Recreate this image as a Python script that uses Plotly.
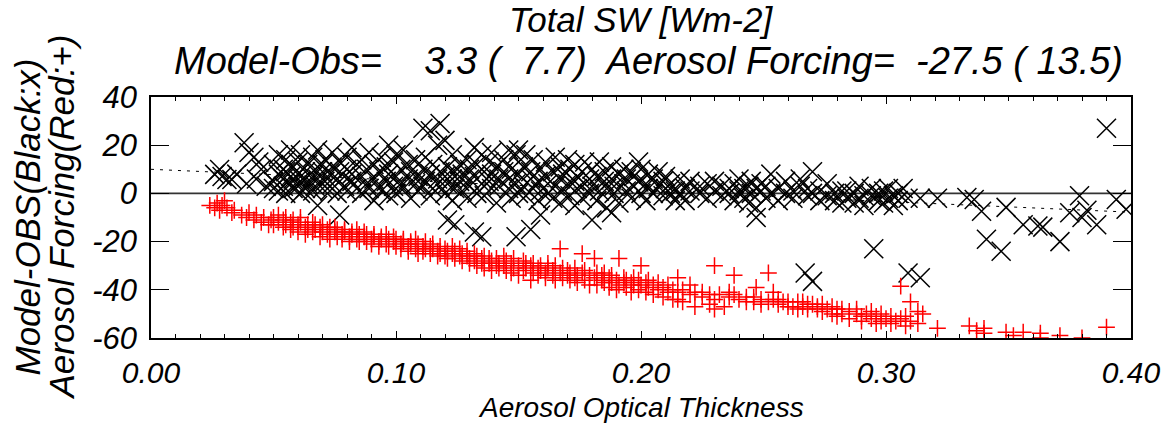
import plotly.graph_objects as go

# ---------------- data ----------------
black_x = [
    0.026, 0.028, 0.029, 0.031, 0.033, 0.035,
    0.038, 0.040, 0.042, 0.044, 0.039, 0.043, 0.045, 0.047,
    0.050, 0.050, 0.050, 0.052, 0.052, 0.052, 0.054, 0.054, 0.054, 0.055, 0.055, 0.055,
    0.057, 0.057, 0.057, 0.058, 0.058, 0.058, 0.060, 0.060, 0.060, 0.061, 0.061, 0.061,
    0.063, 0.063, 0.063, 0.064, 0.064, 0.066, 0.066, 0.066, 0.067, 0.067,
    0.068, 0.068, 0.068, 0.070, 0.070, 0.070, 0.071, 0.071, 0.073, 0.073,
    0.074, 0.074, 0.074, 0.076, 0.076, 0.077, 0.077, 0.077, 0.079, 0.079,
    0.080, 0.080, 0.080, 0.082, 0.082, 0.082, 0.084, 0.084,
    0.086, 0.086, 0.086, 0.088, 0.088, 0.089, 0.089, 0.091, 0.091, 0.091,
    0.093, 0.093, 0.094, 0.094, 0.096, 0.096, 0.097, 0.097, 0.097, 0.099, 0.099,
    0.100, 0.100, 0.100, 0.102, 0.102, 0.103, 0.103, 0.105, 0.105, 0.106, 0.106,
    0.108, 0.108, 0.109, 0.109, 0.111, 0.111, 0.111, 0.112, 0.112,
    0.114, 0.114, 0.114, 0.115, 0.115, 0.117, 0.117, 0.118, 0.118, 0.118,
    0.120, 0.120, 0.120, 0.121, 0.121, 0.121, 0.123, 0.123, 0.123, 0.124, 0.124, 0.124,
    0.126, 0.126, 0.127, 0.127, 0.129, 0.129, 0.130, 0.130, 0.130,
    0.132, 0.132, 0.132, 0.133, 0.133, 0.135, 0.135, 0.135, 0.136, 0.136,
    0.138, 0.138, 0.139, 0.139, 0.139, 0.141, 0.141, 0.142, 0.142, 0.144, 0.144,
    0.146, 0.146, 0.146, 0.147, 0.147, 0.149, 0.149, 0.149,
    0.150, 0.150, 0.150, 0.152, 0.152, 0.153, 0.153, 0.155, 0.155, 0.155, 0.156, 0.156,
    0.158, 0.158, 0.159, 0.159, 0.159, 0.161, 0.161, 0.162, 0.162, 0.164, 0.164,
    0.165, 0.165, 0.167, 0.167, 0.167, 0.168, 0.168, 0.170, 0.170, 0.171, 0.171,
    0.173, 0.173, 0.173, 0.174, 0.174, 0.176, 0.176, 0.177, 0.177, 0.179, 0.179,
    0.180, 0.180, 0.180, 0.182, 0.182, 0.183, 0.183, 0.185, 0.185, 0.186, 0.186,
    0.188, 0.188, 0.188, 0.189, 0.189, 0.191, 0.191, 0.193, 0.193, 0.194, 0.194,
    0.196, 0.196, 0.197, 0.197, 0.199, 0.199, 0.200, 0.200, 0.202, 0.202, 0.203, 0.203,
    0.205, 0.205, 0.207, 0.207, 0.209, 0.209, 0.210, 0.210, 0.212, 0.212, 0.214, 0.214,
    0.216, 0.216, 0.218, 0.218, 0.220, 0.220, 0.224, 0.224, 0.227, 0.227, 0.230, 0.230,
    0.233, 0.233, 0.236, 0.236, 0.238, 0.238, 0.240, 0.240, 0.242, 0.242, 0.244, 0.244,
    0.245, 0.245, 0.247, 0.247, 0.247, 0.249, 0.249, 0.251, 0.251, 0.253, 0.253,
    0.256, 0.256, 0.259, 0.259, 0.262, 0.262, 0.265, 0.265, 0.268, 0.268, 0.270, 0.270,
    0.273, 0.273, 0.276, 0.276, 0.279, 0.279, 0.282, 0.282,
    0.284, 0.284, 0.287, 0.287, 0.289, 0.289, 0.291, 0.291, 0.294, 0.294, 0.295,
    0.297, 0.297, 0.299, 0.299, 0.301, 0.301, 0.303, 0.303, 0.305, 0.305, 0.307,
    0.309, 0.309, 0.314, 0.314, 0.321, 0.267, 0.270,
    0.333, 0.336, 0.339, 0.341, 0.347, 0.349, 0.356, 0.362, 0.364, 0.371,
    0.375, 0.379, 0.380, 0.382, 0.386, 0.390, 0.394, 0.398,
]
black_y = [
    7.9, 9.9, 7.0, 5.8, 5.8, 8.0,
    21, 17, 15, 13, 4, 6, 10, 3,
    5, 12, 2, 8, 16, 1, 3, 10, 6, 14, 0, 9,
    4, 7, 18, 11, 2, 6, 8, 3, 13, 5, 16, 0,
    9, 2, 6, 12, 4, 7, 1, 15, 3, 10,
    -5, 6, 18, 9, 2, 12, 5, 14, 1, 8,
    11, 4, 17, 6, 0, -9, 9, 13, 3, 7,
    15, 1, 10, 5, 19, 8, 2, 12,
    7, 14, 0, 4, 10, 17, 2, 6, 12, -3,
    9, 3, 15, 1, 5, 11, 8, -1, 20, 3, 13,
    7, 0, 16, 10, 4, 2, 18, 6, 12, -2, 9,
    4, 14, 7, 1, 27, 10, 3, 5, 15,
    26, 8, -1, 2, 12, 6, 20, 29, 3, 9,
    22, 0, 7, -11, 11, 4, 6, 16, -3, -13, 2, 9,
    12, 5, 1, 8, 14, -2, 6, 10, 3,
    -16, 7, 19, 0, 12, -18, 4, 16, 9, -1,
    5, 13, 2, 17, 8, -4, 11, 6, 3, 9, 14,
    18, 2, 6, -2, 10, 16, -18, 4,
    18, 8, 0, 3, 11, 16, -1, -15, 6, 9, 2, 14,
    5, -3, -9, 10, 1, 7, 13, 0, 4, 9, -2,
    15, 3, 6, 11, -4, 1, 8, 14, 4, -1, 10,
    5, 12, -5, 2, 7, 9, -2, 13, 4, 0, 6,
    -11, 10, 3, 7, -3, 13, 1, 5, 9, -6, 2,
    -8, 11, 6, 3, 0, 8, -4, 4, 10, 1, 6,
    9, -2, 3, 7, 13, 5, 0, 10, 4, -3, 8, 2,
    6, 0, 3, 9, -1, 5, 2, 7, 4, 0, 1, -3,
    6, 0, 2, -3, 5, 1, 0, 3, -2, 4, 1, 5,
    3, -1, 0, 2, 4, -3, 1, 6, -2, 2, 3, -4,
    0, 5, -10, 2, -6, 1, 4, -2, 3, 8, 0,
    2, -3, 5, 0, 1, -2, 3, 6, -1, 2, 9, 0,
    1, -3, 4, -1, 0, -3, 1, -4,
    -2, 1, 0, -4, 3, -2, -1, -5, 2, -1, -23,
    -3, 0, 1, -4, -2, 2, -5, -1, 0, -3, 2,
    -33, -2, -35, -2, -2, -33, -36.5,
    -1.7, -2.5, -7.4, -19, -24, -5.8, -13, -13.5, -14, -20,
    -8, -1, -10, -7, -13, 27, -2.5, -6.6,
]

red_x = [
    0.024, 0.026, 0.027, 0.028, 0.029, 0.030, 0.031, 0.033, 0.034,
    0.037, 0.039, 0.040, 0.042, 0.043, 0.045, 0.046, 0.048, 0.049,
    0.050, 0.050, 0.052, 0.052, 0.054, 0.054, 0.055, 0.055, 0.057, 0.057, 0.058, 0.058,
    0.060, 0.060, 0.061, 0.061, 0.063, 0.063, 0.064, 0.064, 0.066, 0.066, 0.067, 0.067,
    0.069, 0.069, 0.070, 0.070, 0.072, 0.072, 0.073, 0.073, 0.075, 0.075, 0.076, 0.076,
    0.078, 0.078, 0.079, 0.079, 0.081, 0.081, 0.082, 0.082, 0.084, 0.084, 0.085, 0.085,
    0.087, 0.087, 0.088, 0.088, 0.090, 0.090, 0.091, 0.091, 0.093, 0.093, 0.094, 0.094,
    0.096, 0.096, 0.097, 0.097, 0.099, 0.099, 0.100, 0.100, 0.102, 0.102, 0.103, 0.103,
    0.105, 0.105, 0.106, 0.106, 0.108, 0.108, 0.109, 0.109, 0.111, 0.111, 0.112, 0.112,
    0.114, 0.114, 0.115, 0.115, 0.117, 0.117, 0.118, 0.118, 0.120, 0.120, 0.121, 0.121,
    0.123, 0.123, 0.124, 0.124, 0.126, 0.126, 0.127, 0.127, 0.129, 0.129, 0.130, 0.130,
    0.132, 0.132, 0.133, 0.133, 0.135, 0.135, 0.136, 0.136, 0.138, 0.138, 0.139, 0.139,
    0.141, 0.141, 0.142, 0.142, 0.144, 0.144, 0.145, 0.145, 0.147, 0.147, 0.148, 0.148,
    0.150, 0.150, 0.152, 0.152, 0.153, 0.153, 0.155, 0.155, 0.156, 0.156, 0.158, 0.158,
    0.159, 0.159, 0.161, 0.161, 0.162, 0.162, 0.164, 0.164, 0.165, 0.165, 0.167, 0.167,
    0.168, 0.168, 0.170, 0.170, 0.171, 0.171, 0.173, 0.173, 0.174, 0.174, 0.176, 0.176,
    0.177, 0.177, 0.179, 0.179, 0.181, 0.181, 0.182, 0.182, 0.184, 0.184, 0.185, 0.185,
    0.187, 0.187, 0.188, 0.188, 0.190, 0.190, 0.191, 0.191, 0.193, 0.193, 0.194, 0.194,
    0.196, 0.196, 0.197, 0.197, 0.199, 0.199, 0.200, 0.200, 0.202, 0.202, 0.203, 0.203,
    0.205, 0.205, 0.207, 0.207, 0.209, 0.209, 0.211, 0.211, 0.213, 0.213,
    0.215, 0.215, 0.215, 0.217, 0.217, 0.220, 0.220, 0.222, 0.222, 0.225, 0.225,
    0.228, 0.228, 0.230, 0.230, 0.230, 0.232, 0.234, 0.236, 0.236, 0.238, 0.238, 0.240,
    0.243, 0.243, 0.246, 0.246, 0.247, 0.249, 0.249, 0.252, 0.252, 0.254, 0.254,
    0.256, 0.256, 0.258, 0.260, 0.260, 0.262, 0.264, 0.264, 0.266, 0.266, 0.268, 0.268,
    0.270, 0.272, 0.272, 0.274, 0.274, 0.276, 0.278, 0.278, 0.280, 0.280, 0.282, 0.282,
    0.285, 0.285, 0.288, 0.288, 0.290, 0.290, 0.292, 0.294, 0.294, 0.296, 0.296,
    0.298, 0.298, 0.300, 0.302, 0.302, 0.304, 0.306, 0.306, 0.308, 0.308, 0.310, 0.310,
    0.313, 0.313, 0.315, 0.321, 0.334, 0.337, 0.340, 0.340, 0.349, 0.352, 0.356,
    0.363, 0.363, 0.371, 0.380, 0.390,
]
red_y = [
    -5, -6, -4, -7, -5, -3, -6, -8, -7,
    -9, -10, -8, -11, -9, -12, -10, -13, -11,
    -10, -13, -12, -9, -14, -11, -10, -13, -12, -15, -11, -14,
    -13, -16, -12, -10, -14, -17, -13, -15, -12, -16, -15, -13,
    -14, -18, -16, -13, -15, -17, -14, -19, -16, -14, -18, -15,
    -17, -19, -15, -16, -18, -20, -16, -17, -19, -15, -17, -20,
    -18, -16, -20, -17, -19, -21, -17, -18, -20, -22, -18, -19,
    -21, -17, -19, -22, -20, -18, -22, -19, -21, -23, -19, -20,
    -22, -24, -20, -21, -23, -19, -21, -25, -22, -24, -20, -23,
    -25, -22, -23, -21, -24, -26, -22, -25, -26, -23, -24, -27,
    -25, -22, -27, -24, -23, -26, -28, -25, -26, -24, -27, -29,
    -25, -28, -30, -26, -27, -29, -26, -31, -29, -27, -28, -32,
    -30, -27, -29, -31, -26, -30, -32, -28, -29, -33, -31, -27,
    -30, -34, -28, -32, -31, -29, -36, -30, -33, -29, -31, -34,
    -30, -32, -33, -35, -31, -29, -34, -32, -30, -36, -23, -33,
    -35, -31, -32, -34, -36, -33, -31, -35, -34, -37, -25, -33,
    -36, -32, -34, -38, -27, -35, -38, -33, -36, -34, -33, -37,
    -35, -39, -37, -34, -36, -40, -27, -38, -35, -37, -39, -36,
    -37, -41, -38, -35, -40, -36, -30, -38, -37, -41, -39, -36,
    -42, -38, -40, -37, -43, -39, -38, -41, -44, -40,
    -35, -44, -41, -45, -40, -38, -42, -41, -47, -41, -43,
    -46, -42, -30, -48, -44, -42, -47, -41, -43, -34, -42, -44,
    -45, -43, -43, -45, -39, -44, -46, -33, -45, -41, -44,
    -46, -44, -45, -47, -45, -47, -45, -48, -45, -47, -46, -48,
    -46, -48, -47, -46, -49, -48, -47, -50, -48, -51, -50, -48,
    -49, -52, -50, -48, -51, -53, -50, -52, -49, -51, -54,
    -50, -53, -52, -51, -54, -53, -38.5, -52, -55, -51, -45, -53,
    -49, -54, -50, -56, -55, -57, -56, -58, -57.6, -59, -57.6,
    -58, -60, -59, -60, -55.5,
]

fit_x = [0.0, 0.40]
fit_y = [10.0, -7.8]

x_ticks = [0.0, 0.1, 0.2, 0.3, 0.4]
x_tick_labels = ["0.00", "0.10", "0.20", "0.30", "0.40"]
y_ticks = [-60, -40, -20, 0, 20, 40]
y_tick_labels = ["-60", "-40", "-20", "0", "20", "40"]

title_line1 = "Total SW [Wm-2]"
title_line2 = "Model-Obs=\u00a0\u00a0\u00a0 3.3 (\u00a0 7.7)\u00a0 Aerosol Forcing=\u00a0 -27.5 ( 13.5)"
ytitle_line1 = "Model-OBS(Black:x)"
ytitle_line2 = "Aerosol Forcing(Red:+)"
xtitle = "Aerosol Optical Thickness"

FONT = "Liberation Sans, Arial, sans-serif"

fig = go.Figure()

# zero line
fig.add_trace(go.Scatter(x=[0, 0.4], y=[0, 0], mode="lines",
                         line=dict(color="#333333", width=1.6), hoverinfo="skip"))
# fit (dotted)
fig.add_trace(go.Scatter(x=fit_x, y=fit_y, mode="lines",
                         line=dict(color="black", width=1, dash="3px,6px"), hoverinfo="skip"))
# model - obs
fig.add_trace(go.Scatter(x=black_x, y=black_y, mode="markers",
                         marker=dict(symbol="x-thin", size=19, color="black",
                                     line=dict(color="black", width=1.5))))
# aerosol forcing
fig.add_trace(go.Scatter(x=red_x, y=red_y, mode="markers",
                         marker=dict(symbol="cross-thin", size=12, color="red",
                                     line=dict(color="red", width=1.5))))

fig.update_layout(
    width=1172, height=423,
    margin=dict(l=151, r=41, t=97, b=85),
    paper_bgcolor="white", plot_bgcolor="white",
    showlegend=False,
    font=dict(family=FONT, color="black", style="italic"),
    xaxis=dict(range=[0, 0.4], tickvals=x_ticks, ticktext=x_tick_labels,
               ticks="inside", ticklen=7, tickwidth=1, tickcolor="black",
               minor=dict(dtick=0.01, ticks="inside", ticklen=4, tickcolor="black", tickwidth=1),
               showline=True, linecolor="black", linewidth=1.5, mirror="allticks",
               showgrid=False, zeroline=False,
               tickfont=dict(size=30, family=FONT, style="italic"),
               ticklabelstandoff=7),
    yaxis=dict(range=[-60, 40], tickvals=y_ticks, ticktext=y_tick_labels,
               ticks="inside", ticklen=18, tickwidth=1, tickcolor="black",
               showline=True, linecolor="black", linewidth=1.5, mirror="allticks",
               showgrid=False, zeroline=False,
               tickfont=dict(size=31, family=FONT, style="italic"),
               ticklabelstandoff=6),
    annotations=[
        dict(text=title_line1, xref="paper", yref="paper", x=0.5, xshift=0, y=1, yshift=78,
             showarrow=False, font=dict(size=35, family=FONT, style="italic"),
             xanchor="center", yanchor="middle"),
        dict(text=title_line2, xref="paper", yref="paper", x=0.5, xshift=7, y=1, yshift=36,
             showarrow=False, font=dict(size=38, family=FONT, style="italic"),
             xanchor="center", yanchor="middle"),
        dict(text=ytitle_line1, xref="paper", yref="paper", x=0, xshift=-124, y=0.5,
             textangle=-90, showarrow=False,
             font=dict(size=35, family=FONT, style="italic"),
             xanchor="center", yanchor="middle"),
        dict(text=ytitle_line2, xref="paper", yref="paper", x=0, xshift=-90, y=0.5,
             textangle=-90, showarrow=False,
             font=dict(size=35, family=FONT, style="italic"),
             xanchor="center", yanchor="middle"),
        dict(text=xtitle, xref="paper", yref="paper", x=0.5, y=0, yshift=-69,
             showarrow=False, font=dict(size=28, family=FONT, style="italic"),
             xanchor="center", yanchor="middle"),
    ],
)

fig.write_html("out.html")
